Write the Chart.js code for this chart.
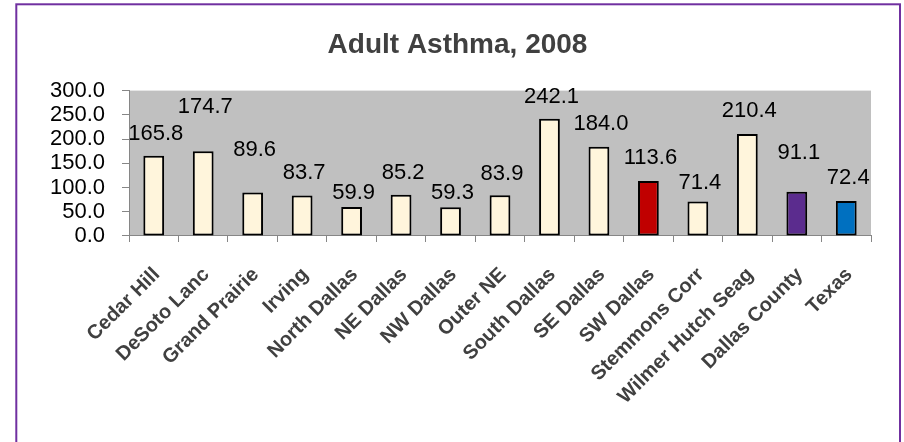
<!DOCTYPE html>
<html>
<head>
<meta charset="utf-8">
<script src="https://cdn.jsdelivr.net/npm/chart.js@4/dist/chart.umd.min.js"></script>
<style>
  html, body { margin: 0; padding: 0; background: #ffffff; }
  #wrap { width: 904px; height: 442px; position: relative; }
</style>
</head>
<body>
<div id="wrap"><canvas id="c" width="904" height="442"></canvas></div>
<script>
// ---- data ----
const categories = ['Cedar Hill', 'DeSoto Lanc', 'Grand Prairie', 'Irving', 'North Dallas', 'NE Dallas',
  'NW Dallas', 'Outer NE', 'South Dallas', 'SE Dallas', 'SW Dallas', 'Stemmons Corr',
  'Wilmer Hutch Seag', 'Dallas County', 'Texas'];
const values = [165.8, 174.7, 89.6, 83.7, 59.9, 85.2, 59.3, 83.9, 242.1, 184.0, 113.6, 71.4, 210.4, 91.1, 72.4];
const yTickValues = [0, 50, 100, 150, 200, 250, 300];

// ---- styles ----
const CREAM = '#FFF5DC';
const barColors = [CREAM, CREAM, CREAM, CREAM, CREAM, CREAM, CREAM, CREAM, CREAM, CREAM,
  '#C00000', CREAM, CREAM, '#5B2C8E', '#0070C0'];
// distance (px) of each value label's baseline above its bar top
const labelLift = [16, 38, 37, 16, 8, 16, 8, 15, 16, 17, 17, 12, 17, 33, 17];
const FONT = "'Liberation Sans', Arial, Helvetica, sans-serif";
Chart.defaults.font.family = FONT;

const backgroundPlugin = {
  id: 'bg',
  beforeDraw(chart) {
    const { ctx, chartArea } = chart;
    ctx.save();
    ctx.fillStyle = '#ffffff';
    ctx.fillRect(0, 0, chart.width, chart.height);
    ctx.fillStyle = '#C0C0C0';
    ctx.fillRect(chartArea.left, chartArea.top, chartArea.right - chartArea.left, chartArea.bottom - chartArea.top);
    ctx.strokeStyle = '#7030A0';
    ctx.lineWidth = 2;
    ctx.strokeRect(16.3, 4.3, 900 - 16.3, 480);
    ctx.restore();
  }
};

const valueLabelPlugin = {
  id: 'valueLabels',
  afterDatasetsDraw(chart) {
    const { ctx } = chart;
    const meta = chart.getDatasetMeta(0);
    ctx.save();
    ctx.font = '22px ' + FONT;
    ctx.fillStyle = '#000000';
    ctx.textAlign = 'center';
    ctx.textBaseline = 'alphabetic';
    meta.data.forEach((bar, i) => {
      const v = chart.data.datasets[0].data[i];
      ctx.fillText(v.toFixed(1), bar.x + 2, bar.y - labelLift[i]);
    });
    ctx.restore();
  }
};

new Chart(document.getElementById('c'), {
  type: 'bar',
  data: {
    labels: categories,
    datasets: [{
      data: values,
      backgroundColor: barColors,
      borderColor: '#000000',
      borderWidth: 2,
      borderSkipped: false,
      barPercentage: 0.42,
      categoryPercentage: 1.0
    }]
  },
  options: {
    responsive: false,
    animation: false,
    events: [],
    layout: { padding: { left: 16, right: 5, top: 0, bottom: 0 } },
    plugins: {
      legend: { display: false },
      tooltip: { enabled: false },
      title: {
        display: true,
        text: 'Adult Asthma, 2008',
        color: '#404040',
        font: { family: FONT, size: 28, weight: 'bold' },
        padding: { top: 28, bottom: 29 }
      }
    },
    scales: {
      x: {
        grid: { display: true, drawOnChartArea: false, drawTicks: true, tickLength: 6, color: '#868686', offset: true },
        border: { display: true, color: '#868686', width: 1 },
        ticks: {
          autoSkip: false,
          minRotation: 45,
          maxRotation: 45,
          padding: 21,
          labelOffset: 3,
          color: '#404040',
          font: { family: FONT, size: 20, weight: 'bold' }
        },
        afterFit(scale) { scale.height = 206; }
      },
      y: {
        min: 0,
        max: 300,
        afterBuildTicks(scale) { scale.ticks = yTickValues.map(v => ({ value: v })); },
        grid: { display: true, drawOnChartArea: false, drawTicks: true, tickLength: 7, color: '#868686' },
        border: { display: true, color: '#868686', width: 1 },
        ticks: {
          autoSkip: false,
          padding: 17,
          color: '#000000',
          font: { family: FONT, size: 22, lineHeight: 1.0 },
          callback: v => Number(v).toFixed(1)
        },
        afterFit(scale) { scale.width = 113; }
      },
      y2: {
        position: 'right',
        display: true,
        grid: { display: false },
        border: { display: false },
        ticks: { display: false },
        afterFit(scale) { scale.width = 28; }
      }
    }
  },
  plugins: [backgroundPlugin, valueLabelPlugin]
});
</script>
</body>
</html>
